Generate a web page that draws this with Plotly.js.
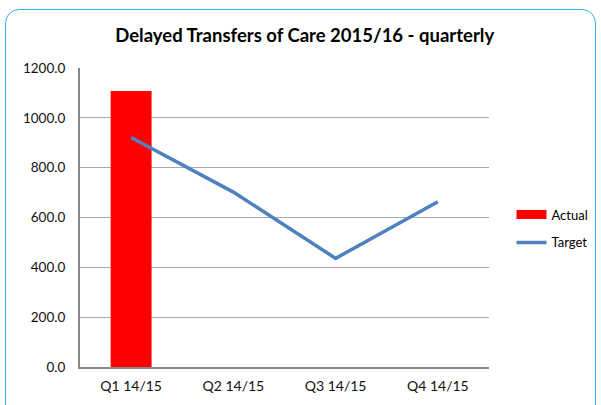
<!DOCTYPE html>
<html><head><meta charset="utf-8">
<script src="https://cdn.plot.ly/plotly-3.0.1.min.js"></script>
<style>
html,body{margin:0;padding:0;background:#fff;}
#wrap{position:relative;width:601px;height:405px;overflow:hidden;}
#chart{width:601px;height:405px;}
#frame{position:absolute;left:5px;top:9px;width:591px;height:420px;border:1.5px solid #3aaee6;border-radius:14px;pointer-events:none;box-sizing:border-box;}
</style></head>
<body><div id="wrap"><div id="chart"></div><div id="frame"></div></div>
<script>
const categories = ["Q1 14/15","Q2 14/15","Q3 14/15","Q4 14/15"];
const actual = [1108, null, null, null];
const target = [921, 702, 436, 663];
const yTicks = [0,200,400,600,800,1000,1200];
const yTickLabels = yTicks.map(v => v.toFixed(1));

const font = "Lato, 'Open Sans', sans-serif";
const red = '#ff0000', blue = '#4f81bd';
Plotly.newPlot('chart', [
  {type:'bar', name:'Actual', x:categories, y:actual, marker:{color:red}, width:0.4, showlegend:false},
  {type:'scatter', mode:'lines', name:'Actual', x:[categories[0]], y:[null], line:{color:red, width:9}, legendgroup:'a'},
  {type:'scatter', mode:'lines', name:'Target', x:categories, y:target, line:{color:blue, width:3.5}, legendgroup:'b'}
], {
  width:601, height:405,
  margin:{l:80, r:112, t:68, b:38, autoexpand:false},
  paper_bgcolor:'#fff', plot_bgcolor:'#fff',
  title:{text:'<b>Delayed Transfers of Care 2015/16 - quarterly</b>', x:0.507, xanchor:'center', y:0.913, yanchor:'middle', font:{family:font, size:18.5, color:'#000'}},
  font:{family:font, size:13, color:'#111'},
  xaxis:{type:'category', showline:true, linecolor:'#888', linewidth:2, ticks:'', showgrid:false, tickfont:{size:14}, ticklabelstandoff:5, fixedrange:true, automargin:false},
  yaxis:{range:[0,1200], tickvals:yTicks, ticktext:yTickLabels, showline:true, linecolor:'#888', linewidth:2, gridcolor:'#a6a6a6', gridwidth:1, ticks:'', zeroline:false, tickfont:{size:13.5}, ticklabelstandoff:10, automargin:false},
  showlegend:true,
  legend:{x:1.055, y:0.56, xanchor:'left', yanchor:'top', font:{size:13, color:'#000'}, tracegroupgap:8, bgcolor:'rgba(0,0,0,0)'},
  bargap:0.6
}, {displayModeBar:false, staticPlot:true});
</script></body></html>
